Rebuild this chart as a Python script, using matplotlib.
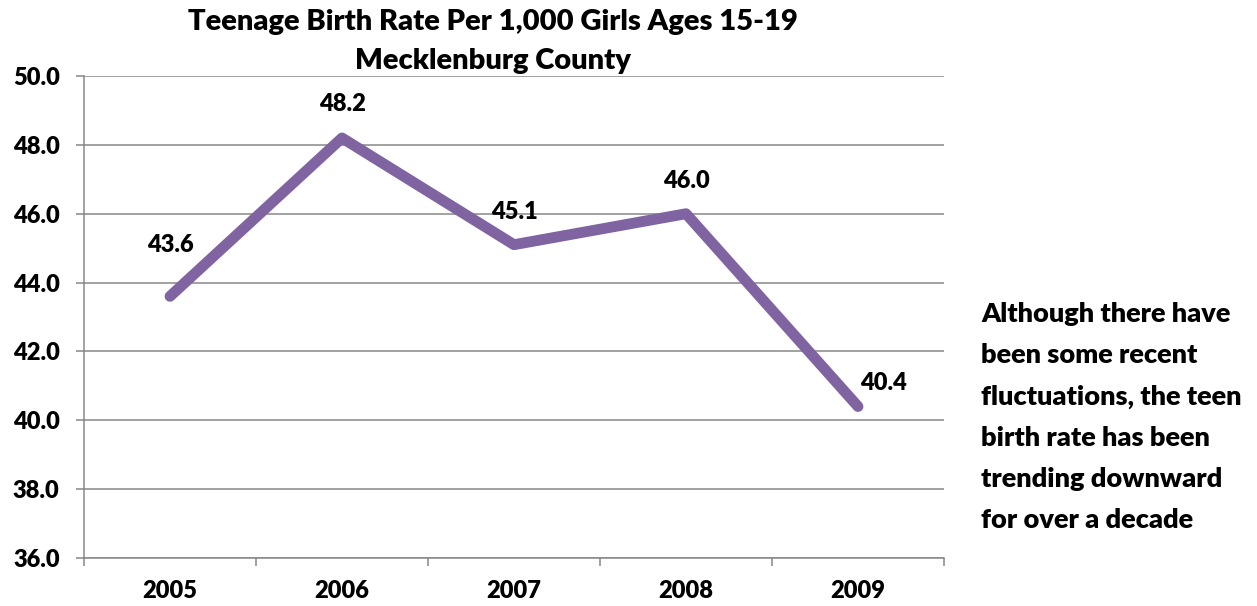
import matplotlib
matplotlib.use("Agg")
import matplotlib.pyplot as plt

years = ["2005", "2006", "2007", "2008", "2009"]
rates = [43.6, 48.2, 45.1, 46.0, 40.4]
y_ticks = [36.0, 38.0, 40.0, 42.0, 44.0, 46.0, 48.0, 50.0]

# label offsets in pixels (dx, dy) relative to each point
label_offsets = [(0, 51), (0, 34), (0, 33), (0, 33), (25, 24)]

FONT = "Lato"
WEIGHT = "heavy"
LINE_COLOR = "#8064A2"
GRID_COLOR = "#878787"

fig = plt.figure(figsize=(12.57, 6.06), dpi=100)
ax = fig.add_axes([84 / 1257, 1 - 558 / 606, (944 - 84) / 1257, (558 - 76) / 606])

x = list(range(len(years)))
ax.plot(x, rates, color=LINE_COLOR, linewidth=7.8, solid_capstyle="round",
        solid_joinstyle="round", zorder=3)

for xi, v, (dx, dy) in zip(x, rates, label_offsets):
    ax.annotate(f"{v:.1f}", (xi, v), xytext=(dx * 0.72, dy * 0.72),
                textcoords="offset points", ha="center", va="center",
                fontsize=17, fontweight=WEIGHT, family=FONT, zorder=4)

ax.set_xlim(-0.5, len(years) - 0.5)
ax.set_ylim(36, 50)
ax.set_yticks(y_ticks)
ax.set_yticklabels([f"{t:.1f}" for t in y_ticks], fontsize=17,
                   fontweight=WEIGHT, family=FONT)
ax.set_xticks(x)
ax.set_xticklabels(years, fontsize=17, fontweight=WEIGHT, family=FONT)
ax.set_xticks([i - 0.5 for i in range(len(years) + 1)], minor=True)

ax.yaxis.grid(True, color=GRID_COLOR, linewidth=1.1)
ax.set_axisbelow(True)
for side in ["top", "right"]:
    ax.spines[side].set_visible(False)
for side in ["left", "bottom"]:
    ax.spines[side].set_color(GRID_COLOR)
    ax.spines[side].set_linewidth(1.1)

ax.tick_params(axis="y", length=5.5, width=1.1, color=GRID_COLOR, pad=12)
ax.tick_params(axis="x", which="major", length=0, pad=16)
ax.tick_params(axis="x", which="minor", length=6, width=1.1, color=GRID_COLOR)

fig.text(493 / 1257, 1 - 22 / 606, "Teenage Birth Rate Per 1,000 Girls Ages 15-19",
         ha="center", va="center", fontsize=21, fontweight=WEIGHT, family=FONT)
fig.text(493 / 1257, 1 - 61 / 606, "Mecklenburg County",
         ha="center", va="center", fontsize=21, fontweight=WEIGHT, family=FONT)

note = ("Although there have\nbeen some recent\nfluctuations, the teen\n"
        "birth rate has been\ntrending downward\nfor over a decade")
fig.text(981 / 1257, 1 - 302 / 606, note, ha="left", va="top",
         fontsize=19.5, fontweight=WEIGHT, family=FONT, linespacing=1.86)

fig.savefig("out.png", dpi=100)
